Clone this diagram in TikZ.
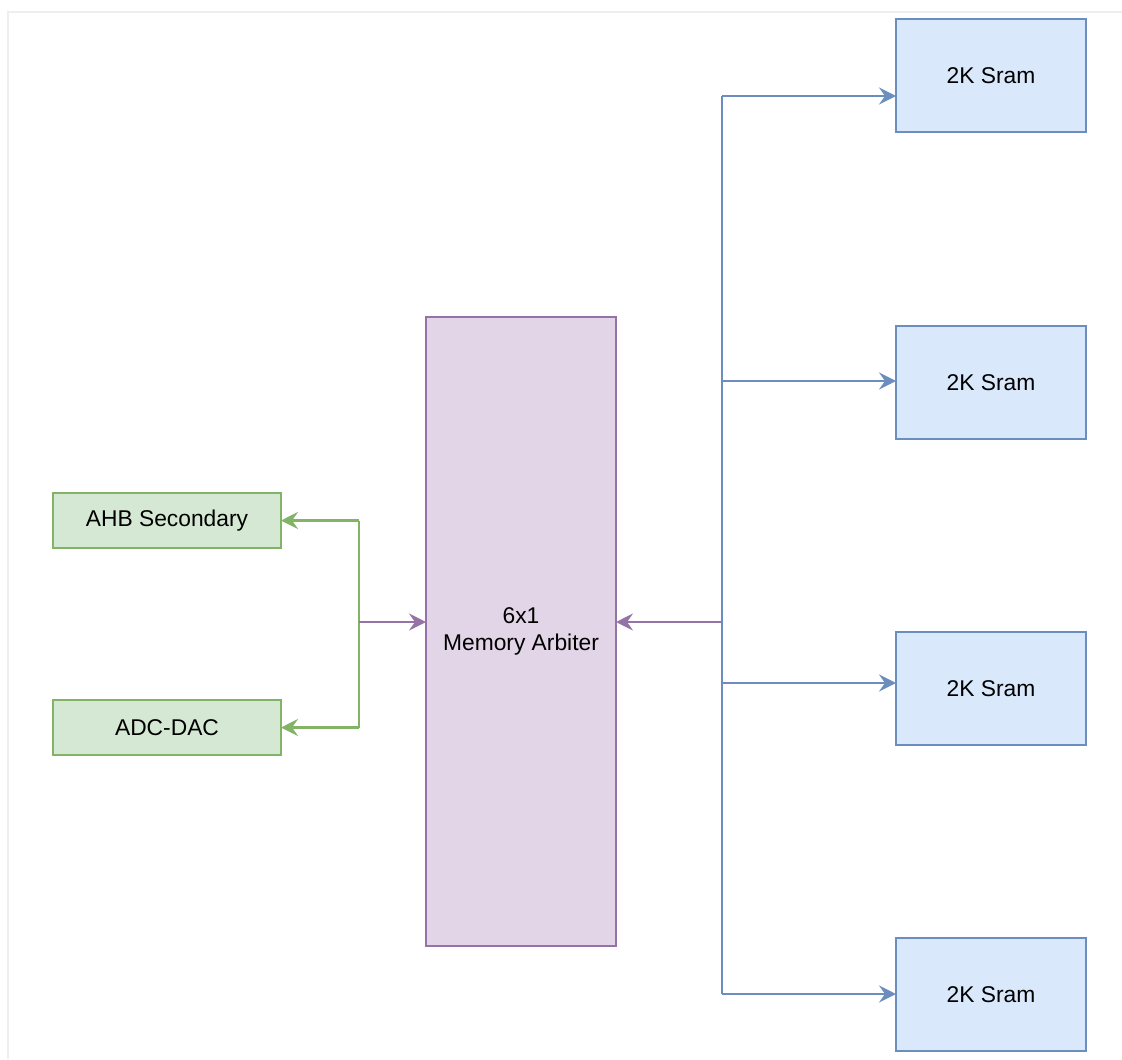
\documentclass[tikz,border=0pt]{standalone}
\usepackage{fontspec}
\setmainfont{Liberation Sans}
\usetikzlibrary{arrows.meta,positioning}
\definecolor{sramfill}{HTML}{DAE8FC}
\definecolor{sramline}{HTML}{6C8EBF}
\definecolor{hostfill}{HTML}{D5E8D4}
\definecolor{hostline}{HTML}{82B366}
\definecolor{arbfill}{HTML}{E1D5E7}
\definecolor{arbline}{HTML}{9673A6}
\definecolor{frame}{HTML}{EEEEEE}
\tikzset{
  blockbox/.style={draw, line width=1.4pt, inner sep=0pt, outer sep=0pt, align=center,
    font=\fontsize{11.4}{13.5}\selectfont},
  srambox/.style={blockbox, draw=sramline, fill=sramfill, minimum width=95pt, minimum height=56.5pt},
  hostbox/.style={blockbox, draw=hostline, fill=hostfill, minimum width=114pt, minimum height=27.5pt},
  arbbox/.style={blockbox, draw=arbline, fill=arbfill, minimum width=95pt, minimum height=314.5pt},
  wire/.style={line width=1.2pt},
  arr/.style={wire, -{Stealth[length=8.5pt, width=8.5pt, inset=3pt]}},
  greenline/.style={wire, draw=hostline},
  greenarr/.style={arr, draw=hostline, fill=hostline},
  blueline/.style={wire, draw=sramline},
  bluearr/.style={arr, draw=sramline, fill=sramline},
  purplearr/.style={arr, draw=arbline, fill=arbline}
}
\begin{document}
\begin{tikzpicture}[x=0.5pt,y=-0.5pt]
  \useasboundingbox (0,0) rectangle (1122,1059);
  \draw[frame, line width=1pt] (8,1059) -- (8,12) -- (1122,12);

  % blocks
  \node[arbbox] (arb) at (521,631.5) {6x1\\Memory Arbiter};
  \node[hostbox] (ahb) at (167,520.5) {AHB Secondary};
  \node[hostbox] (adc) at (167,727.5) {ADC-DAC};
  \foreach \i/\y in {1/75.5,2/382.5,3/688.5,4/994.5}
    \node[srambox] (s\i) at (991,\y) {2K Sram};

  % left side bus
  \coordinate (gtop) at (359,520.5);
  \coordinate (gbot) at (359,727.5);
  \coordinate (gmid) at (359,622);
  \draw[greenline] (gtop) -- (gbot);
  \draw[greenarr] (gtop) -- (ahb.east);
  \draw[greenarr] (gbot) -- (adc.east);
  \draw[purplearr] (gmid) -- (gmid -| arb.west);

  % right side bus
  \foreach \i/\y in {1/96,2/381,3/683,4/994}
    \coordinate (b\i) at (722,\y);
  \coordinate (bmid) at (722,622);
  \draw[blueline] (b1) -- (b4);
  \foreach \i in {1,...,4}
    \draw[bluearr] (b\i) -- (b\i -| s\i.west);
  \draw[purplearr] (bmid) -- (bmid -| arb.east);
\end{tikzpicture}
\end{document}
